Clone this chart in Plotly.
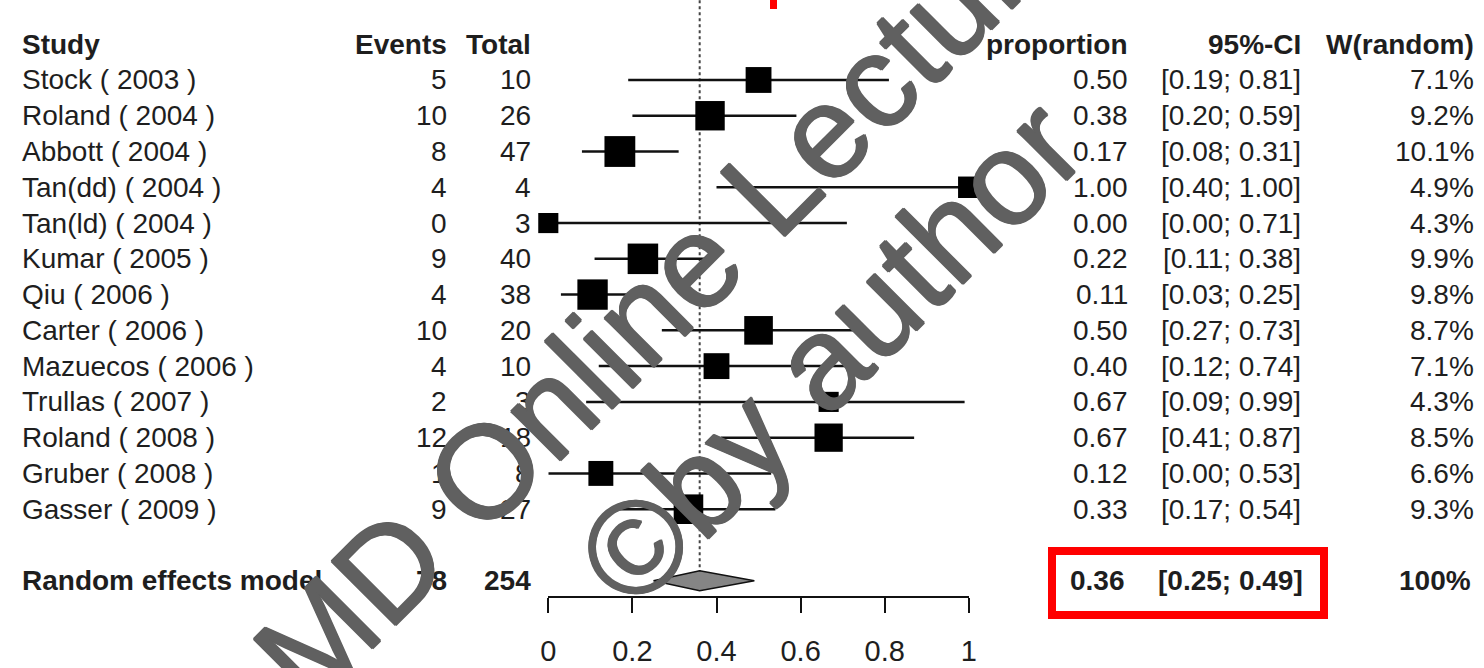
import math
import plotly.graph_objects as go

# ---------------- data ----------------
studies = ["Stock ( 2003 )", "Roland ( 2004 )", "Abbott ( 2004 )", "Tan(dd) ( 2004 )",
           "Tan(ld) ( 2004 )", "Kumar ( 2005 )", "Qiu ( 2006 )", "Carter ( 2006 )",
           "Mazuecos ( 2006 )", "Trullas ( 2007 )", "Roland ( 2008 )", "Gruber ( 2008 )",
           "Gasser ( 2009 )"]
events = [5, 10, 8, 4, 0, 9, 4, 10, 4, 2, 12, 1, 9]
totals = [10, 26, 47, 4, 3, 40, 38, 20, 10, 3, 18, 8, 27]
proportion = [0.50, 0.38, 0.17, 1.00, 0.00, 0.22, 0.11, 0.50, 0.40, 0.67, 0.67, 0.12, 0.33]
ci_lower = [0.19, 0.20, 0.08, 0.40, 0.00, 0.11, 0.03, 0.27, 0.12, 0.09, 0.41, 0.00, 0.17]
ci_upper = [0.81, 0.59, 0.31, 1.00, 0.71, 0.38, 0.25, 0.73, 0.74, 0.99, 0.87, 0.53, 0.54]
weights = [7.1, 9.2, 10.1, 4.9, 4.3, 9.9, 9.8, 8.7, 7.1, 4.3, 8.5, 6.6, 9.3]

summary_label = "Random effects model"
summary_events = 78
summary_total = 254
summary_est = 0.36
summary_lower = 0.25
summary_upper = 0.49
summary_weight = "100%"

headers = ["Study", "Events", "Total", "proportion", "95%-CI", "W(random)"]
tick_vals = [0, 0.2, 0.4, 0.6, 0.8, 1]
tick_text = ["0", "0.2", "0.4", "0.6", "0.8", "1"]

watermark_1 = "MD Online Lectures"
watermark_2 = "©by author"

# ---------------- layout helpers ----------------
W, H = 1484, 668
FONT = "Arial, Liberation Sans, sans-serif"
TXT = "#1e1e1e"
FS = 28
WM = "#606060"

rows = [i + 1 for i in range(len(studies))]
header_row = 0
summary_row = len(studies) + 2


def px(x):
    return x / W


col_study = px(20)
col_events = px(449)
col_total = px(533)
col_prop = px(1130)
col_ci = px(1303)
col_w = px(1476)

fig = go.Figure()

# confidence interval lines
cx, cy = [], []
for lo, hi, r in zip(ci_lower, ci_upper, rows):
    cx += [lo, hi, None]
    cy += [r, r, None]
fig.add_trace(go.Scatter(x=cx, y=cy, mode="lines",
                         line=dict(color="#111111", width=2.5),
                         hoverinfo="skip", showlegend=False, cliponaxis=False))

# squares
fig.add_trace(go.Scatter(
    x=[e / t for e, t in zip(events, totals)], y=rows, mode="markers",
    marker=dict(symbol="square", color="black", opacity=1,
                size=[9.7 * math.sqrt(w) for w in weights], line=dict(width=0)),
    showlegend=False, cliponaxis=False))

# summary diamond
dh = 0.28
fig.add_trace(go.Scatter(
    x=[summary_lower, summary_est, summary_upper, summary_est, summary_lower],
    y=[summary_row, summary_row - dh, summary_row, summary_row + dh, summary_row],
    mode="lines", fill="toself", fillcolor="#858585",
    line=dict(color="#111111", width=1.5), showlegend=False, cliponaxis=False))

shapes = [
    dict(type="line", xref="x", yref="y", x0=summary_est, x1=summary_est,
         y0=-1.4, y1=summary_row, layer="below",
         line=dict(color="#444444", width=2, dash="dot")),
    dict(type="rect", xref="paper", yref="paper",
         x0=px(1052), x1=px(1324), y0=1 - 615 / H, y1=1 - 551 / H,
         line=dict(color="#ff0000", width=8)),
    dict(type="rect", xref="paper", yref="paper",
         x0=px(770), x1=px(777), y0=1 - 9 / H, y1=1.0,
         fillcolor="#ff0000", line=dict(width=0)),
]

annotations = []


def add_text(x, row, text, anchor, bold=False):
    annotations.append(dict(
        x=x, y=row, xref="paper", yref="y", text=f"<b>{text}</b>" if bold else text,
        showarrow=False, xanchor=anchor, yanchor="middle",
        font=dict(family=FONT, size=FS, color=TXT)))


# header
for x, t, a in zip([col_study, col_events, col_total, col_prop, col_ci, col_w],
                   headers, ["left", "right", "right", "right", "right", "right"]):
    add_text(x, header_row, t, a, bold=True)

# study rows
for i, r in enumerate(rows):
    add_text(col_study, r, studies[i], "left")
    add_text(col_events, r, str(events[i]), "right")
    add_text(col_total, r, str(totals[i]), "right")
    add_text(col_prop, r, f"{proportion[i]:.2f}", "right")
    add_text(col_ci, r, f"[{ci_lower[i]:.2f}; {ci_upper[i]:.2f}]", "right")
    add_text(col_w, r, f"{weights[i]:.1f}%", "right")

# summary row
add_text(col_study, summary_row, summary_label, "left", bold=True)
add_text(col_events, summary_row, str(summary_events), "right", bold=True)
add_text(col_total, summary_row, str(summary_total), "right", bold=True)
add_text(px(1127), summary_row, f"{summary_est:.2f}", "right", bold=True)
add_text(px(1305), summary_row, f"[{summary_lower:.2f}; {summary_upper:.2f}]", "right", bold=True)
add_text(px(1473), summary_row, summary_weight, "right", bold=True)

# watermark
thick = f"1px 0 0 {WM}, -1px 0 0 {WM}, 0 1px 0 {WM}, 0 -1px 0 {WM}"
for t, cxp, cyp in [(watermark_1, 690, 266), (watermark_2, 830, 352)]:
    annotations.append(dict(
        x=px(cxp), y=1 - cyp / H, xref="paper", yref="paper", text=t,
        showarrow=False, xanchor="center", yanchor="middle", textangle=-45,
        font=dict(family=FONT, size=132, color=WM, shadow=thick)))

fig.update_layout(
    width=W, height=H, autosize=False,
    margin=dict(l=0, r=0, t=0, b=0, autoexpand=False),
    paper_bgcolor="white", plot_bgcolor="rgba(0,0,0,0)",
    showlegend=False,
    shapes=shapes, annotations=annotations,
    xaxis=dict(domain=[548.3 / W, 968.8 / W], range=[0, 1],
               anchor="free", position=1 - 597 / H, automargin=False,
               showgrid=False, zeroline=False,
               showline=True, linecolor="#111111", linewidth=2,
               ticks="outside", ticklen=15, tickwidth=2, tickcolor="#111111",
               tickvals=tick_vals, ticktext=tick_text, ticklabelstandoff=13,
               tickfont=dict(family="Liberation Sans Narrow, Arial Narrow, Liberation Sans",
                             size=29, color=TXT)),
    yaxis=dict(domain=[0, 1], range=[17.44, -1.236], visible=False,
               showgrid=False, zeroline=False, automargin=False),
)

fig.write_html("out.html", config={"displayModeBar": False})
